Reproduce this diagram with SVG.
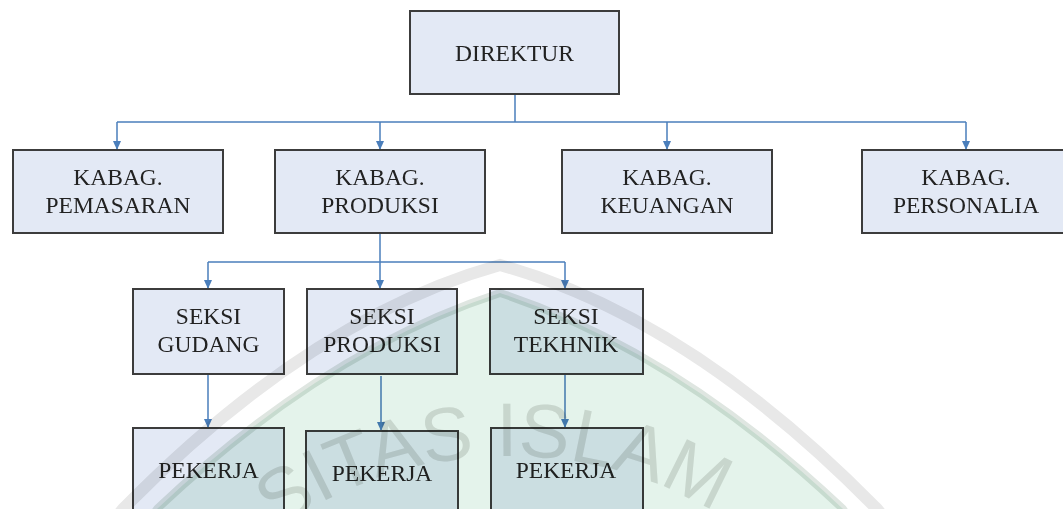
<svg xmlns="http://www.w3.org/2000/svg" width="1063" height="509" viewBox="0 0 1063 509">
  <style>
    .box { fill: #e3e9f5; stroke: #3c3c3c; stroke-width: 2; }
    .lbl { font-family: "Liberation Serif", "Times New Roman", serif; font-size: 23.5px; fill: #222; text-anchor: middle; }
    .con { fill: none; stroke: #4a7ebb; stroke-width: 1.5; }
    .arr { marker-end: url(#arr); }
    .wm { mix-blend-mode: multiply; }
  </style>
  <defs>
    <marker id="arr" viewBox="0 0 9 8" refX="9" refY="4" markerWidth="9" markerHeight="8" orient="auto" markerUnits="userSpaceOnUse">
      <path d="M0,0 L9,4 L0,8 z" fill="#4a7ebb"/>
    </marker>
    <path id="wmArc" d="M161.7,656.5 A401,401 0 0 1 856.3,656.5"/>
  </defs>
  <rect width="1063" height="509" fill="#ffffff"/>

  <g id="connectors">
    <path class="con" d="M515,94 V122"/>
    <path class="con" d="M117,122 H966"/>
    <path class="con arr" d="M117,122 V150"/>
    <path class="con arr" d="M380,122 V150"/>
    <path class="con arr" d="M667,122 V150"/>
    <path class="con arr" d="M966,122 V150"/>
    <path class="con arr" d="M380,233 V289"/>
    <path class="con" d="M208,262 H565"/>
    <path class="con arr" d="M208,262 V289"/>
    <path class="con arr" d="M565,262 V289"/>
    <path class="con arr" d="M208,374 V428"/>
    <path class="con arr" d="M381,376 V431"/>
    <path class="con arr" d="M565,374 V428"/>
  </g>

  <g id="node-direktur">
    <rect class="box" x="410" y="11" width="209" height="83"/>
    <text class="lbl" x="514.5" y="61">DIREKTUR</text>
  </g>
  <g id="node-kabag-pemasaran">
    <rect class="box" x="13" y="150" width="210" height="83"/>
    <text class="lbl" x="118" y="185">KABAG.</text>
    <text class="lbl" x="118" y="213">PEMASARAN</text>
  </g>
  <g id="node-kabag-produksi">
    <rect class="box" x="275" y="150" width="210" height="83"/>
    <text class="lbl" x="380" y="185">KABAG.</text>
    <text class="lbl" x="380" y="213">PRODUKSI</text>
  </g>
  <g id="node-kabag-keuangan">
    <rect class="box" x="562" y="150" width="210" height="83"/>
    <text class="lbl" x="667" y="185">KABAG.</text>
    <text class="lbl" x="667" y="213">KEUANGAN</text>
  </g>
  <g id="node-kabag-personalia">
    <rect class="box" x="862" y="150" width="210" height="83"/>
    <text class="lbl" x="966" y="185">KABAG.</text>
    <text class="lbl" x="966" y="213">PERSONALIA</text>
  </g>
  <g id="node-seksi-gudang">
    <rect class="box" x="133" y="289" width="151" height="85"/>
    <text class="lbl" x="208.5" y="324">SEKSI</text>
    <text class="lbl" x="208.5" y="352">GUDANG</text>
  </g>
  <g id="node-seksi-produksi">
    <rect class="box" x="307" y="289" width="150" height="85"/>
    <text class="lbl" x="382" y="324">SEKSI</text>
    <text class="lbl" x="382" y="352">PRODUKSI</text>
  </g>
  <g id="node-seksi-tekhnik">
    <rect class="box" x="490" y="289" width="153" height="85"/>
    <text class="lbl" x="566" y="324">SEKSI</text>
    <text class="lbl" x="566" y="352">TEKHNIK</text>
  </g>
  <g id="node-pekerja-1">
    <rect class="box" x="133" y="428" width="151" height="100"/>
    <text class="lbl" x="208.5" y="478">PEKERJA</text>
  </g>
  <g id="node-pekerja-2">
    <rect class="box" x="306" y="431" width="152" height="100"/>
    <text class="lbl" x="382" y="481">PEKERJA</text>
  </g>
  <g id="node-pekerja-3">
    <rect class="box" x="491" y="428" width="152" height="100"/>
    <text class="lbl" x="566" y="478">PEKERJA</text>
  </g>

  <g id="watermark">
    <path class="wm" d="M157,509 Q325,350 500,293 Q675,350 843,509 L860,530 L140,530 Z" fill="#e4f3eb"/>
    <path class="wm" d="M150,520 L157,509 Q325,350 500,293 Q675,350 843,509 L850,520" fill="none" stroke="#dfe6e1" stroke-width="8" stroke-linejoin="miter"/>
    <path class="wm" d="M110,525 L123,509 Q310,318 500,265 Q690,318 877,509 L890,525" fill="none" stroke="#e8e8e8" stroke-width="12" stroke-linejoin="miter"/>
    <text class="wm" font-family="Liberation Sans, Arial, sans-serif" font-size="76" fill="#e0e1df" text-anchor="middle"><textPath href="#wmArc" startOffset="403.8">SITAS ISLAM</textPath></text>
  </g>
</svg>
